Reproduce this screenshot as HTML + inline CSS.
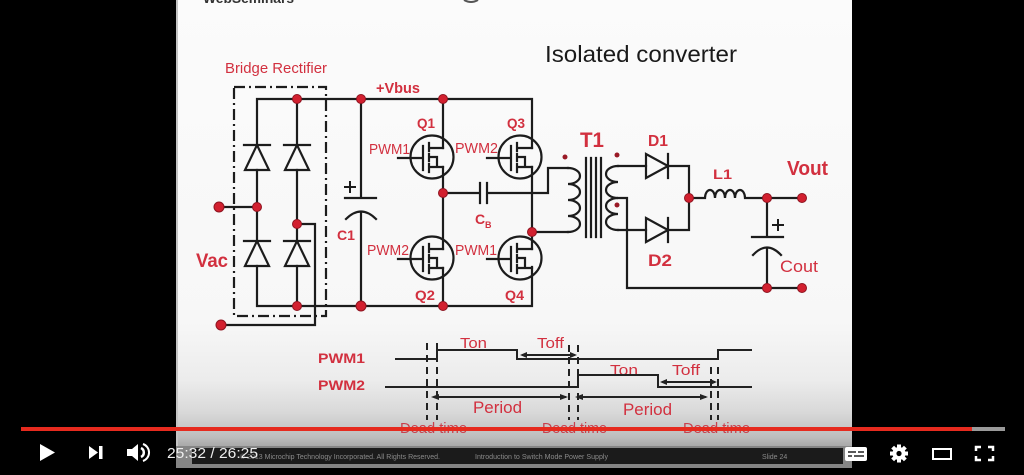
<!DOCTYPE html>
<html><head><meta charset="utf-8"><style>
html,body{margin:0;padding:0;background:#000;}
svg{display:block;}
text{font-family:"Liberation Sans",Arial,sans-serif;}
</style></head><body>
<svg width="1024" height="475" viewBox="0 0 1024 475" xmlns="http://www.w3.org/2000/svg">
<defs>
<linearGradient id="bg" x1="0" y1="0" x2="0" y2="475" gradientUnits="userSpaceOnUse">
<stop offset="0" stop-color="#fbfbfb"/>
<stop offset="0.68" stop-color="#f7f7f7"/>
<stop offset="0.80" stop-color="#ececec"/>
<stop offset="0.87" stop-color="#d8d8d8"/>
<stop offset="0.92" stop-color="#bdbdbd"/>
<stop offset="0.945" stop-color="#a2a2a2"/>
<stop offset="1" stop-color="#8a8a8a"/>
</linearGradient>
</defs>
<rect x="0" y="0" width="1024" height="475" fill="#000"/>
<rect x="176" y="0" width="676" height="468" fill="url(#bg)"/>
<rect x="176" y="0" width="2" height="447" fill="#c4c4c4"/>
<!-- footer band -->
<rect x="176" y="446" width="676" height="22" fill="#858585"/>
<rect x="192" y="448" width="651" height="16" fill="#1b1b1b"/>
<text x="240" y="459" font-size="7" fill="#8a8a8a">© 2013 Microchip Technology Incorporated. All Rights Reserved.</text>
<text x="475" y="459" font-size="7" fill="#8a8a8a" textLength="133" lengthAdjust="spacingAndGlyphs">Introduction to Switch Mode Power Supply</text>
<text x="762" y="459" font-size="7" fill="#8a8a8a">Slide 24</text>

<!-- header -->
<text x="203" y="3" font-size="14" font-weight="bold" fill="#333" textLength="91" lengthAdjust="spacingAndGlyphs">WebSeminars</text>
<path d="M464,0 Q471,4 478,0" stroke="#555" stroke-width="2" fill="none"/>
<text x="545" y="62" font-size="23" fill="#1a1a1a" textLength="192" lengthAdjust="spacingAndGlyphs">Isolated converter</text>

<g stroke="#1c1c1c" stroke-width="2.2" fill="none" stroke-linecap="square">
<!-- dash-dot box -->
<rect x="234" y="87" width="92" height="229" stroke-dasharray="11 4 2 4" stroke-linecap="butt"/>
<!-- rails -->
<path d="M257,145 V99 H532 V148"/>
<path d="M257,266 V306 H532 V267"/>
<!-- diode columns -->
<path d="M257,170 V241"/>
<path d="M297,99 V145 M297,170 V241 M297,266 V306"/>
<!-- diodes -->
<path d="M244,145 H270 M245,170 H269 L257,145 Z"/>
<path d="M284,145 H310 M285,170 H309 L297,145 Z"/>
<path d="M244,241 H270 M245,266 H269 L257,241 Z"/>
<path d="M284,241 H310 M285,266 H309 L297,241 Z"/>
<!-- Vac wiring -->
<path d="M219,207 H257"/>
<path d="M297,224 H315 V325 H221"/>
<!-- C1 -->
<path d="M361,99 V198 M345,198 H376"/>
<path d="M346,219 Q361,204 376,219"/>
<path d="M361,212 V306"/>
<!-- left leg Q1/Q2 -->
<path d="M443,99 V148 M443,167 V249 M443,268 V306"/>
<!-- right leg Q3/Q4 -->
<path d="M532,167 V249"/>
<!-- MOSFETs -->
<g id="q1">
<circle cx="432" cy="157" r="21.5"/>
<path d="M398,158 H423 M423,146 V170 M429,143 V151 M429,154 V161 M429,164 V172 M429,148 H443 M429,157 H437 V167 M429,167 H443"/>
</g>
<g>
<circle cx="432" cy="258" r="21.5"/>
<path d="M398,259 H423 M423,247 V271 M429,244 V252 M429,255 V262 M429,265 V273 M429,249 H443 M429,258 H437 V268 M429,268 H443"/>
</g>
<g>
<circle cx="520" cy="157" r="21.5"/>
<path d="M487,158 H511 M511,146 V170 M517,143 V151 M517,154 V161 M517,164 V172 M517,148 H532 M517,157 H525 V167 M517,167 H532"/>
</g>
<g>
<circle cx="520" cy="258" r="21.5"/>
<path d="M487,259 H511 M511,247 V271 M517,244 V252 M517,255 V262 M517,265 V273 M517,249 H532 M517,258 H525 V268 M517,268 H532"/>
</g>
<!-- CB -->
<path d="M443,193 H480 M480,183 V203 M487,183 V203 M487,193 H548 V168 H568"/>
<!-- primary -->
<path d="M532,232 H568"/>
<path d="M568,168 a12,8 0 0 1 0,16 a12,8 0 0 1 0,16 a12,8 0 0 1 0,16 a12,8 0 0 1 0,16"/>
<!-- core -->
<path d="M586,158 V237 M591,158 V237 M596,158 V237 M601,158 V237"/>
<!-- secondary -->
<path d="M618,166 a12,8 0 0 0 0,16 a12,8 0 0 0 0,16 a12,8 0 0 0 0,16 a12,8 0 0 0 0,16"/>
<path d="M618,166 H646 M618,230 H646"/>
<path d="M618,198 H627 V288 H802"/>
<!-- D1 D2 -->
<path d="M646,154 V178 L668,166 Z M668,154 V178 M668,166 H689 V230 H668"/>
<path d="M646,218 V242 L668,230 Z M668,218 V242"/>
<!-- L1 -->
<path d="M689,198 H705 a5,8 0 0 1 10,0 a5,8 0 0 1 10,0 a5,8 0 0 1 10,0 a5,8 0 0 1 10,0 H802"/>
<!-- Cout -->
<path d="M767,198 V237 M752,237 H783"/>
<path d="M753,255 Q767,240 781,255"/>
<path d="M767,248 V288"/>
<!-- plus signs -->
<path d="M345,187 H355 M350,182 V192" stroke-width="2"/>
<path d="M773,225 H783 M778,220 V230" stroke-width="2"/>
</g>

<!-- nodes -->
<g fill="#d2202f" stroke="#8e1420" stroke-width="1">
<circle cx="297" cy="99" r="4.5"/>
<circle cx="361" cy="99" r="4.5"/>
<circle cx="443" cy="99" r="4.5"/>
<circle cx="257" cy="207" r="4.5"/>
<circle cx="297" cy="224" r="4.5"/>
<circle cx="297" cy="306" r="4.5"/>
<circle cx="361" cy="306" r="5"/>
<circle cx="443" cy="306" r="4.5"/>
<circle cx="443" cy="193" r="4.5"/>
<circle cx="532" cy="232" r="4.5"/>
<circle cx="689" cy="198" r="4.5"/>
<circle cx="767" cy="198" r="4.5"/>
<circle cx="767" cy="288" r="4.5"/>
<circle cx="802" cy="198" r="4.5"/>
<circle cx="802" cy="288" r="4.5"/>
<circle cx="219" cy="207" r="5"/>
<circle cx="221" cy="325" r="5"/>
</g>
<g fill="#9a1a26">
<circle cx="565" cy="157" r="2.5"/>
<circle cx="617" cy="155" r="2.5"/>
<circle cx="617" cy="205" r="2.5"/>
</g>

<!-- labels -->
<g fill="#d2303f" font-weight="bold">
<text x="225" y="73" font-size="15" font-weight="normal" textLength="102" lengthAdjust="spacingAndGlyphs">Bridge Rectifier</text>
<text x="376" y="93" font-size="15" textLength="44" lengthAdjust="spacingAndGlyphs">+Vbus</text>
<text x="417" y="128" font-size="14" textLength="18" lengthAdjust="spacingAndGlyphs">Q1</text>
<text x="507" y="128" font-size="14" textLength="18" lengthAdjust="spacingAndGlyphs">Q3</text>
<text x="415" y="300" font-size="14" textLength="20" lengthAdjust="spacingAndGlyphs">Q2</text>
<text x="505" y="300" font-size="14" textLength="19" lengthAdjust="spacingAndGlyphs">Q4</text>
<text x="369" y="154" font-size="15" font-weight="normal" textLength="41" lengthAdjust="spacingAndGlyphs">PWM1</text>
<text x="455" y="153" font-size="15" font-weight="normal" textLength="43" lengthAdjust="spacingAndGlyphs">PWM2</text>
<text x="367" y="255" font-size="15" font-weight="normal" textLength="42" lengthAdjust="spacingAndGlyphs">PWM2</text>
<text x="455" y="255" font-size="15" font-weight="normal" textLength="42" lengthAdjust="spacingAndGlyphs">PWM1</text>
<text x="475" y="224" font-size="14">C</text>
<text x="485" y="228" font-size="9">B</text>
<text x="337" y="240" font-size="14" textLength="18" lengthAdjust="spacingAndGlyphs">C1</text>
<text x="196" y="267" font-size="19" textLength="32" lengthAdjust="spacingAndGlyphs">Vac</text>
<text x="580" y="147" font-size="21" textLength="24" lengthAdjust="spacingAndGlyphs">T1</text>
<text x="648" y="146" font-size="16" textLength="20" lengthAdjust="spacingAndGlyphs">D1</text>
<text x="713" y="179" font-size="14" textLength="19" lengthAdjust="spacingAndGlyphs">L1</text>
<text x="787" y="175" font-size="20" textLength="41" lengthAdjust="spacingAndGlyphs">Vout</text>
<text x="648" y="266" font-size="17" textLength="24" lengthAdjust="spacingAndGlyphs">D2</text>
<text x="780" y="272" font-size="17" font-weight="normal" textLength="38" lengthAdjust="spacingAndGlyphs">Cout</text>
<!-- timing labels -->
<text x="318" y="363" font-size="14" textLength="47" lengthAdjust="spacingAndGlyphs">PWM1</text>
<text x="318" y="390" font-size="14" textLength="47" lengthAdjust="spacingAndGlyphs">PWM2</text>
<g font-weight="normal">
<text x="460" y="348" font-size="15" textLength="27" lengthAdjust="spacingAndGlyphs">Ton</text>
<text x="537" y="348" font-size="15" textLength="27" lengthAdjust="spacingAndGlyphs">Toff</text>
<text x="610" y="375" font-size="15" textLength="28" lengthAdjust="spacingAndGlyphs">Ton</text>
<text x="672" y="375" font-size="15" textLength="28" lengthAdjust="spacingAndGlyphs">Toff</text>
<text x="473" y="413" font-size="17" textLength="49" lengthAdjust="spacingAndGlyphs">Period</text>
<text x="623" y="415" font-size="17" textLength="49" lengthAdjust="spacingAndGlyphs">Period</text>
<text x="400" y="433" font-size="15" fill="#c9404c" textLength="67" lengthAdjust="spacingAndGlyphs">Dead time</text>
<text x="542" y="433" font-size="15" fill="#c9404c" textLength="65" lengthAdjust="spacingAndGlyphs">Dead time</text>
<text x="683" y="433" font-size="15" fill="#c9404c" textLength="67" lengthAdjust="spacingAndGlyphs">Dead time</text>
</g>
</g>

<!-- timing waveforms -->
<g stroke="#222" stroke-width="2" fill="none">
<path d="M395,359 H437 V350 H517 V359 H718 V350 H752"/>
<path d="M385,387 H578 V375 H658 V387 H752"/>
<path d="M522,355 H575"/>
<path d="M662,382 H715"/>
<path d="M434,397 H566"/>
<path d="M578,397 H706"/>
<g stroke-dasharray="7 5">
<path d="M427,343 V420 M437,343 V420"/>
<path d="M569,345 V420 M578,345 V420"/>
<path d="M711,367 V420 M718,367 V420"/>
</g>
</g>
<g fill="#222">
<polygon points="520,355 527,352 527,358"/>
<polygon points="577,355 570,352 570,358"/>
<polygon points="660,382 667,379 667,385"/>
<polygon points="717,382 710,379 710,385"/>
<polygon points="431,397 439,394 439,400"/>
<polygon points="568,397 560,394 560,400"/>
<polygon points="575,397 583,394 583,400"/>
<polygon points="708,397 700,394 700,400"/>
</g>

<!-- YouTube controls -->
<rect x="21" y="427" width="951" height="4" fill="#e62a1e"/>
<rect x="972" y="427" width="33" height="4" fill="#9a9a9a"/>
<polygon points="40,444 55,452.5 40,461" fill="#fff"/>
<polygon points="89,446 98,452.5 89,459" fill="#fff"/>
<rect x="99" y="446" width="3.5" height="13" fill="#fff"/>
<polygon points="127,449 132,449 138,444 138,461 132,456 127,456" fill="#fff"/>
<path d="M141,448 a5,5 0 0 1 0,9" stroke="#fff" stroke-width="2.5" fill="none"/>
<path d="M143,444 a9,9 0 0 1 0,17" stroke="#fff" stroke-width="2" fill="none"/>
<text x="167" y="458" font-size="15" fill="#eee" textLength="91" lengthAdjust="spacingAndGlyphs">25:32 / 26:25</text>
<!-- cc -->
<rect x="845" y="447" width="22" height="14" rx="2" fill="#fff"/>
<path d="M848,452 H856 M858,452 H864 M848,456 H852 M854,456 H864" stroke="#222" stroke-width="1.5"/>
<!-- gear -->
<g transform="translate(899,453.5)" fill="#fff">
<circle r="6.5"/>
<rect x="-2" y="-9" width="4" height="18"/>
<rect x="-9" y="-2" width="18" height="4"/>
<rect x="-2" y="-9" width="4" height="18" transform="rotate(45)"/>
<rect x="-2" y="-9" width="4" height="18" transform="rotate(-45)"/>
<circle r="2.6" fill="#000"/>
</g>
<!-- theater -->
<rect x="933" y="449" width="18" height="10" stroke="#fff" stroke-width="2" fill="none"/>
<!-- fullscreen -->
<path d="M976,451 V447 H981 M988,447 H993 V451 M993,456 V460 H988 M981,460 H976 V456" stroke="#fff" stroke-width="2.5" fill="none"/>
</svg>
</body></html>
